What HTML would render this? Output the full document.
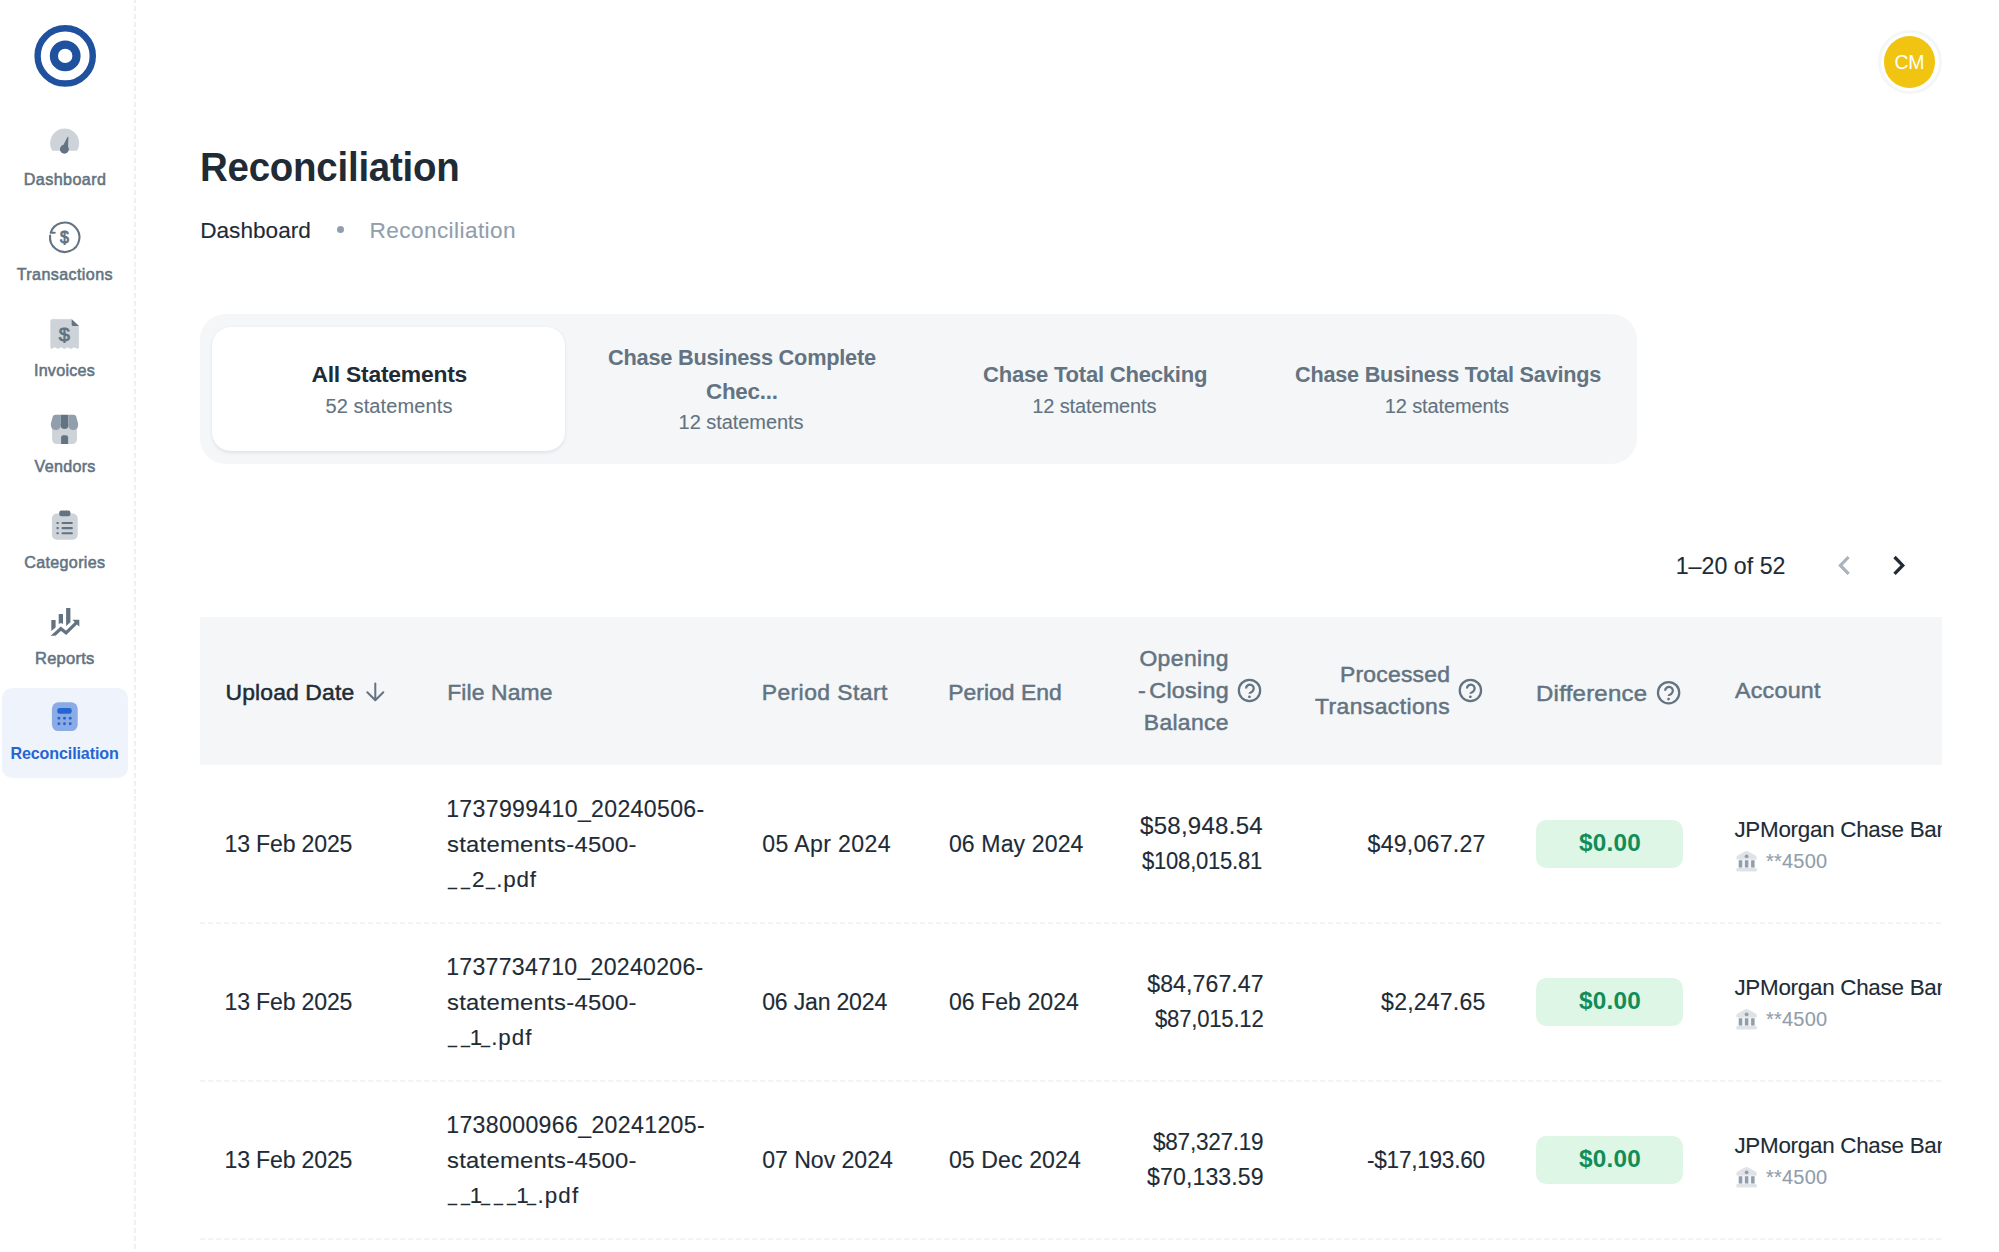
<!DOCTYPE html>
<html lang="en">
<head>
<meta charset="utf-8">
<title>Reconciliation</title>
<style>
*{box-sizing:border-box;margin:0;padding:0}
html,body{width:1999px;height:1252px;overflow:hidden;background:#fff}
body{position:relative;font-family:"Liberation Sans",sans-serif;color:#212b36}
.abs{position:absolute}
.t{position:absolute;white-space:pre;display:block;transform-origin:0 0}
nav,header,main,section,.clip{position:absolute;left:0;top:0}
.clip{width:1941.5px;height:1252px;overflow:hidden}
.sideline{position:absolute;left:134px;top:-1.985px;width:2px;height:1260px;background:repeating-linear-gradient(to bottom,#eff1f4 0,#eff1f4 5px,transparent 5px,transparent 7.985px)}
.active{position:absolute;left:2px;top:688px;width:126px;height:89.5px;border-radius:10px;background:#eef3fc}
.avatar{position:absolute;left:1883.75px;top:36.35px;width:51.5px;height:51.5px;border-radius:50%;background:#f0c411}
.avring{position:absolute;left:1877.5px;top:30.1px;width:64px;height:64px;border-radius:50%;border:3px solid #f5f6f7}
.tabs{position:absolute;left:199.5px;top:314.25px;width:1437px;height:149.75px;border-radius:25.6px;background:#f4f6f8}
.tabsel{position:absolute;left:212px;top:327px;width:353px;height:123.75px;border-radius:19.2px;background:#fff;box-shadow:0 1.6px 3.2px rgba(145,158,171,.2)}
.thead{position:absolute;left:199.5px;top:617px;width:1742px;height:147.5px;background:#f4f6f8}
.rowline{position:absolute;left:199.5px;width:1742px;height:2px;background:repeating-linear-gradient(to right,#f2f4f6 0,#f2f4f6 5px,transparent 5px,transparent 8px)}
.chip{position:absolute;left:1536px;width:147px;height:47.5px;border-radius:10.5px;background:#ddf6e6}
.t i.d{display:inline-block;font-style:normal;letter-spacing:0;overflow:visible;white-space:pre}
.t i.u{display:inline-block;width:13.2px;font-style:normal;letter-spacing:0;transform:translate(2px,-1.6px) scaleX(.72);transform-origin:0 0}
.dot{position:absolute;left:336.6px;top:226px;width:7px;height:7px;border-radius:50%;background:#919eab}
svg{position:absolute;overflow:visible}
</style>
</head>
<body>
<nav>
<div class="sideline"></div>
<div class="active"></div>
<svg id="navicons" style="left:0;top:0" width="135" height="800" viewBox="0 0 135 800">
<circle cx="65.2" cy="55.9" r="27.6" fill="none" stroke="#20519e" stroke-width="6.4"/>
<circle cx="65.2" cy="55.9" r="11.3" fill="none" stroke="#20519e" stroke-width="8.2"/>
<path d="M52.8 150A13.7 13.7 0 1 1 76.5 150Z" fill="#cdd3d9" stroke="#cdd3d9" stroke-width="1.6" stroke-linejoin="round"/>
<path d="M67.85 137.4L63.3 146.4L67.5 147.6Z" fill="#637381" stroke="#637381" stroke-width="1.1" stroke-linejoin="round"/><circle cx="64.4" cy="149.2" r="4.45" fill="#637381"/>
<path d="M50.1 235.6A14.7 14.7 0 1 0 50.7 232.8H54.7" fill="none" stroke="#637381" stroke-width="2.1" stroke-linecap="round" stroke-linejoin="round"/>
<text x="64.5" y="243.2" text-anchor="middle" font-family="Liberation Sans, sans-serif" font-weight="400" font-size="16" fill="#637381" stroke="#637381" stroke-width=".8">$</text>
<path d="M50.8 321.2Q50.8 319.4 52.6 319.4H71.6L78.6 326V347.4L77.7 348.6L74.2 346.9L70.9 348.6L67.7 346.9L64.4 348.6L61.2 346.9L58 348.6L54.7 346.9L51.5 348.6L50.8 347.4Z" fill="#cdd3d9" stroke="#cdd3d9" stroke-width=".8" stroke-linejoin="round"/>
<path d="M71.7 319.2L79 325.9H73.2Q71.7 325.9 71.7 324.4Z" fill="#637381"/>
<text x="64.45" y="341.2" text-anchor="middle" font-family="Liberation Sans, sans-serif" font-weight="400" font-size="19" fill="#637381" stroke="#637381" stroke-width=".75" transform="translate(64.45 0) scale(1.06 1) translate(-64.45 0)">$</text>
<path d="M52.1 424H77V438.8Q77 444 71.8 444H57.3Q52.1 444 52.1 438.8Z" fill="#cdd3d9"/>
<path d="M61.1 444V437.6Q61.1 435.3 63.4 435.3H65.8Q68.1 435.3 68.1 437.6V444Z" fill="#637381"/>
<path d="M55.2 414.8H60.7V425.2A4.9 4.9 0 0 1 50.9 425.2Q50.6 424 51.2 422.2L52.8 416.6Q53.3 414.8 55.2 414.8Z" fill="#919eab"/>
<path d="M60.7 414.8H68.3V425.2A3.8 3.8 0 0 1 60.7 425.2Z" fill="#637381"/>
<path d="M73.8 414.8H68.3V425.2A4.9 4.9 0 0 0 78.1 425.2Q78.4 424 77.8 422.2L76.2 416.6Q75.7 414.8 73.8 414.8Z" fill="#919eab"/>
<rect x="51.9" y="513.6" width="25.8" height="26.1" rx="5" fill="#cdd3d9"/>
<rect x="59.2" y="510.5" width="11.3" height="5.8" rx="2.2" fill="#637381"/>
<rect x="56.4" y="521.95" width="2.4" height="2.1" rx=".8" fill="#637381"/><rect x="61.5" y="521.95" width="11.4" height="2.1" rx="1" fill="#637381"/>
<rect x="56.4" y="527.05" width="2.4" height="2.1" rx=".8" fill="#637381"/><rect x="61.5" y="527.05" width="11.4" height="2.1" rx="1" fill="#637381"/>
<rect x="56.4" y="532.25" width="2.4" height="2.1" rx=".8" fill="#637381"/><rect x="61.5" y="532.25" width="11.4" height="2.1" rx="1" fill="#637381"/>
<path d="M51.3 620H55.6V627.6L51.3 631.1Z" fill="#637381"/>
<path d="M58.7 614.1H63V624.1L60.85 622.9L58.7 624.1Z" fill="#637381"/>
<path d="M66.1 608H70.4V622.2L66.1 626.1Z" fill="#637381"/>
<clipPath id="rc"><rect x="40" y="600" width="50" height="35.7"/></clipPath>
<path d="M51.3 637.4L60.8 628.7L66.1 632.9L76.8 622.3" fill="none" stroke="#637381" stroke-width="3.3" stroke-linejoin="miter" clip-path="url(#rc)"/>
<path d="M72.4 619.8H79.3V626.7Z" fill="#637381"/>
<rect x="51.9" y="702.3" width="25.8" height="28.8" rx="6.5" fill="#8aabe6"/>
<rect x="57.3" y="708.1" width="14.4" height="5.6" rx="2.2" fill="#2565d2"/>
<circle cx="58.9" cy="718.2" r="1.45" fill="#2565d2"/>
<circle cx="64.5" cy="718.2" r="1.45" fill="#2565d2"/>
<circle cx="70.2" cy="718.2" r="1.45" fill="#2565d2"/>
<circle cx="58.9" cy="723.8" r="1.45" fill="#2565d2"/>
<circle cx="64.5" cy="723.8" r="1.45" fill="#2565d2"/>
<circle cx="70.2" cy="723.8" r="1.45" fill="#2565d2"/>
</svg>
<span class="t" style="left:23.70px;top:171.00px;font-size:16.1px;line-height:16.1px;letter-spacing:0.440px;color:#637381;-webkit-text-stroke:0.55px #637381;">Dashboard</span>
<span class="t" style="left:16.70px;top:266.00px;font-size:16.1px;line-height:16.1px;letter-spacing:0.392px;color:#637381;-webkit-text-stroke:0.55px #637381;">Transactions</span>
<span class="t" style="left:33.90px;top:362.00px;font-size:16.1px;line-height:16.1px;letter-spacing:0.273px;color:#637381;-webkit-text-stroke:0.55px #637381;">Invoices</span>
<span class="t" style="left:34.60px;top:458.00px;font-size:16.1px;line-height:16.1px;letter-spacing:0.282px;color:#637381;-webkit-text-stroke:0.55px #637381;">Vendors</span>
<span class="t" style="left:24.30px;top:554.00px;font-size:16.1px;line-height:16.1px;letter-spacing:0.324px;color:#637381;-webkit-text-stroke:0.55px #637381;">Categories</span>
<span class="t" style="left:34.98px;top:650.00px;font-size:16.1px;line-height:16.1px;letter-spacing:0.250px;color:#637381;transform:scaleX(1.0246);-webkit-text-stroke:0.55px #637381;">Reports</span>
<span class="t" style="left:10.40px;top:745.00px;font-size:16.1px;line-height:16.1px;letter-spacing:-0.120px;color:#2565d2;font-weight:700;">Reconciliation</span>
</nav>
<header>
<div class="avring"></div>
<div class="avatar"></div>
<span class="t" style="left:1894.60px;top:53.00px;font-size:19.5px;line-height:19.5px;letter-spacing:-0.382px;color:#ffffff;">CM</span>
</header>
<main>
<h1><span class="t" style="left:199.99px;top:148.00px;font-size:40.2px;line-height:40.2px;letter-spacing:-0.250px;color:#212b36;transform:scaleX(0.9572);font-weight:700;">Reconciliation</span></h1>
<div class="crumbs"><span class="t" style="left:200.20px;top:220.00px;font-size:22.6px;line-height:22.6px;letter-spacing:0.017px;color:#212b36;-webkit-text-stroke:0.12px #212b36;">Dashboard</span>
<span class="t" style="left:369.50px;top:220.00px;font-size:22.6px;line-height:22.6px;letter-spacing:0.416px;color:#919eab;-webkit-text-stroke:0.12px #919eab;">Reconciliation</span><div class="dot"></div></div>
<section>
<div class="tabs"></div>
<div class="tabsel"></div>
<span class="t" style="left:311.40px;top:363.00px;font-size:22.9px;line-height:22.9px;letter-spacing:-0.236px;color:#212b36;font-weight:700;">All Statements</span>
<span class="t" style="left:325.40px;top:396.00px;font-size:20.0px;line-height:20.0px;letter-spacing:0.115px;color:#637381;-webkit-text-stroke:0.12px #637381;">52 statements</span>
<span class="t" style="left:607.80px;top:346.00px;font-size:22.9px;line-height:22.9px;letter-spacing:-0.250px;color:#637381;transform:scaleX(0.9507);font-weight:700;">Chase Business Complete</span>
<span class="t" style="left:706.20px;top:380.00px;font-size:22.9px;line-height:22.9px;letter-spacing:-0.250px;color:#637381;transform:scaleX(0.9779);font-weight:700;">Chec...</span>
<span class="t" style="left:678.60px;top:412.00px;font-size:20.0px;line-height:20.0px;letter-spacing:-0.060px;color:#637381;-webkit-text-stroke:0.12px #637381;">12 statements</span>
<span class="t" style="left:982.90px;top:363.00px;font-size:22.9px;line-height:22.9px;letter-spacing:-0.250px;color:#637381;transform:scaleX(0.9646);font-weight:700;">Chase Total Checking</span>
<span class="t" style="left:1032.30px;top:396.00px;font-size:20.0px;line-height:20.0px;letter-spacing:-0.127px;color:#637381;-webkit-text-stroke:0.12px #637381;">12 statements</span>
<span class="t" style="left:1294.60px;top:363.00px;font-size:22.9px;line-height:22.9px;letter-spacing:-0.250px;color:#637381;transform:scaleX(0.9466);font-weight:700;">Chase Business Total Savings</span>
<span class="t" style="left:1384.80px;top:396.00px;font-size:20.0px;line-height:20.0px;letter-spacing:-0.127px;color:#637381;-webkit-text-stroke:0.12px #637381;">12 statements</span>
</section>
<section>
<span class="t" style="left:1675.70px;top:555.00px;font-size:23.2px;line-height:23.2px;letter-spacing:0.022px;color:#212b36;-webkit-text-stroke:0.12px #212b36;">1–20 of 52</span>
<svg style="left:0;top:0" width="1999" height="700" viewBox="0 0 1999 700">
<polyline points="1848.6,557 1840.4,565.4 1848.6,573.8" fill="none" stroke="#a9b3bd" stroke-width="3.2" stroke-linecap="butt" stroke-linejoin="miter"/>
<polyline points="1894.5,557 1902.7,565.4 1894.5,573.8" fill="none" stroke="#212b36" stroke-width="3.3" stroke-linecap="butt" stroke-linejoin="miter"/>
</svg>
</section>
<section>
<div class="thead"></div>
<span class="t" style="left:225.50px;top:681.00px;font-size:22.9px;line-height:22.9px;letter-spacing:0.138px;color:#212b36;-webkit-text-stroke:0.5px #212b36;">Upload Date</span>
<span class="t" style="left:447.20px;top:681.00px;font-size:22.9px;line-height:22.9px;letter-spacing:0.116px;color:#637381;-webkit-text-stroke:0.5px #637381;">File Name</span>
<span class="t" style="left:761.70px;top:681.00px;font-size:22.9px;line-height:22.9px;letter-spacing:0.436px;color:#637381;-webkit-text-stroke:0.5px #637381;">Period Start</span>
<span class="t" style="left:948.30px;top:681.00px;font-size:22.9px;line-height:22.9px;letter-spacing:0.008px;color:#637381;-webkit-text-stroke:0.5px #637381;">Period End</span>
<span class="t" style="left:1139.40px;top:647.00px;font-size:22.9px;line-height:22.9px;letter-spacing:0.414px;color:#637381;-webkit-text-stroke:0.5px #637381;">Opening</span>
<span class="t" style="left:1137.78px;top:679.00px;font-size:22.9px;line-height:22.9px;letter-spacing:0.250px;color:#637381;word-spacing:-3.4px;transform:scaleX(1.0189);-webkit-text-stroke:0.5px #637381;">- Closing</span>
<span class="t" style="left:1143.80px;top:711.00px;font-size:22.9px;line-height:22.9px;letter-spacing:0.318px;color:#637381;-webkit-text-stroke:0.5px #637381;">Balance</span>
<span class="t" style="left:1340.00px;top:663.00px;font-size:22.9px;line-height:22.9px;letter-spacing:0.223px;color:#637381;-webkit-text-stroke:0.5px #637381;">Processed</span>
<span class="t" style="left:1315.00px;top:695.00px;font-size:22.9px;line-height:22.9px;letter-spacing:0.405px;color:#637381;-webkit-text-stroke:0.5px #637381;">Transactions</span>
<span class="t" style="left:1536.15px;top:682.00px;font-size:22.9px;line-height:22.9px;letter-spacing:0.250px;color:#637381;transform:scaleX(1.0466);-webkit-text-stroke:0.5px #637381;">Difference</span>
<span class="t" style="left:1734.50px;top:679.00px;font-size:22.9px;line-height:22.9px;letter-spacing:0.250px;color:#637381;transform:scaleX(1.0147);-webkit-text-stroke:0.5px #637381;">Account</span>
<svg style="left:0;top:0" width="1999" height="800" viewBox="0 0 1999 800">
<g fill="none" stroke="#637381" stroke-width="2" stroke-linecap="round" stroke-linejoin="round">
<path d="M375.3 683.5V700M367.3 692.3l8 8 8-8"/>
</g>
<g fill="none" stroke="#637381" stroke-width="2.25" stroke-linejoin="round"><circle cx="1249.5" cy="690.4" r="10.65"/><path d="M1246.05 688.50A3.85 3.85 0 1 1 1252.40 691.40Q1249.45 692.90 1249.45 693.70"/></g><circle cx="1249.45" cy="696.80" r="1.4" fill="#637381"/>
<g fill="none" stroke="#637381" stroke-width="2.25" stroke-linejoin="round"><circle cx="1470.4" cy="690.4" r="10.65"/><path d="M1466.95 688.50A3.85 3.85 0 1 1 1473.30 691.40Q1470.35 692.90 1470.35 693.70"/></g><circle cx="1470.35" cy="696.80" r="1.4" fill="#637381"/>
<g fill="none" stroke="#637381" stroke-width="2.25" stroke-linejoin="round"><circle cx="1668.6" cy="692.7" r="10.65"/><path d="M1665.15 690.80A3.85 3.85 0 1 1 1671.50 693.70Q1668.55 695.20 1668.55 696.00"/></g><circle cx="1668.55" cy="699.10" r="1.4" fill="#637381"/>
</svg>
<div class="rowline" style="top:921.8px"></div>
<div class="rowline" style="top:1079.8px"></div>
<div class="rowline" style="top:1237.8px"></div>
<div class="chip" style="top:820px"></div>
<div class="chip" style="top:978px"></div>
<div class="chip" style="top:1136px"></div>
<span class="t" style="left:224.50px;top:833.00px;font-size:23.1px;line-height:23.1px;letter-spacing:-0.174px;color:#212b36;-webkit-text-stroke:0.12px #212b36;">13 Feb 2025</span>
<span class="t" style="left:446.20px;top:798.00px;font-size:23.1px;line-height:23.1px;letter-spacing:0.330px;color:#212b36;-webkit-text-stroke:0.12px #212b36;">1737999410_20240506-</span>
<span class="t" style="left:447.20px;top:834.00px;font-size:22.4px;line-height:22.4px;letter-spacing:0.250px;color:#212b36;transform:scaleX(1.0640);-webkit-text-stroke:0.12px #212b36;">statements-4500-</span>
<span class="t" style="left:445.90px;top:869.00px;font-size:22.4px;line-height:22.4px;letter-spacing:0;color:#212b36;-webkit-text-stroke:0.12px #212b36;"><i class="u">_</i><i class="u">_</i><i class="d" style="width:12px;text-indent:-0.4px">2</i><i class="u">_</i><span style="margin-left:-1.10px;letter-spacing:0.791px">.pdf</span></span>
<span class="t" style="left:762.20px;top:833.00px;font-size:23.1px;line-height:23.1px;letter-spacing:0.381px;color:#212b36;-webkit-text-stroke:0.12px #212b36;">05 Apr 2024</span>
<span class="t" style="left:948.90px;top:833.00px;font-size:23.1px;line-height:23.1px;letter-spacing:0.102px;color:#212b36;-webkit-text-stroke:0.12px #212b36;">06 May 2024</span>
<span class="t" style="left:1140.00px;top:815.00px;font-size:23.1px;line-height:23.1px;letter-spacing:0.250px;color:#212b36;transform:scaleX(1.0408);-webkit-text-stroke:0.12px #212b36;">$58,948.54</span>
<span class="t" style="left:1141.90px;top:850.00px;font-size:23.1px;line-height:23.1px;letter-spacing:-0.250px;color:#212b36;transform:scaleX(0.9554);-webkit-text-stroke:0.12px #212b36;">$108,015.81</span>
<span class="t" style="left:1367.60px;top:833.00px;font-size:23.1px;line-height:23.1px;letter-spacing:0.240px;color:#212b36;-webkit-text-stroke:0.12px #212b36;">$49,067.27</span>
<span class="t" style="left:1579.00px;top:832.00px;font-size:23.1px;line-height:23.1px;letter-spacing:0.250px;color:#118d57;transform:scaleX(1.0527);font-weight:700;">$0.00</span>
<span class="t" style="left:1766.10px;top:851.00px;font-size:20.0px;line-height:20.0px;letter-spacing:0.193px;color:#919eab;-webkit-text-stroke:0.12px #919eab;">**4500</span>
<span class="t" style="left:224.50px;top:991.00px;font-size:23.1px;line-height:23.1px;letter-spacing:-0.174px;color:#212b36;-webkit-text-stroke:0.12px #212b36;">13 Feb 2025</span>
<span class="t" style="left:446.20px;top:956.00px;font-size:23.1px;line-height:23.1px;letter-spacing:0.283px;color:#212b36;-webkit-text-stroke:0.12px #212b36;">1737734710_20240206-</span>
<span class="t" style="left:447.20px;top:992.00px;font-size:22.4px;line-height:22.4px;letter-spacing:0.250px;color:#212b36;transform:scaleX(1.0640);-webkit-text-stroke:0.12px #212b36;">statements-4500-</span>
<span class="t" style="left:445.90px;top:1027.00px;font-size:22.4px;line-height:22.4px;letter-spacing:0;color:#212b36;-webkit-text-stroke:0.12px #212b36;"><i class="u">_</i><i class="u">_</i><i class="d" style="width:6.8px;text-indent:-2.5px">1</i><i class="u">_</i><span style="margin-left:-1.10px;letter-spacing:0.991px">.pdf</span></span>
<span class="t" style="left:762.20px;top:991.00px;font-size:23.1px;line-height:23.1px;letter-spacing:-0.208px;color:#212b36;-webkit-text-stroke:0.12px #212b36;">06 Jan 2024</span>
<span class="t" style="left:948.90px;top:991.00px;font-size:23.1px;line-height:23.1px;letter-spacing:0.026px;color:#212b36;-webkit-text-stroke:0.12px #212b36;">06 Feb 2024</span>
<span class="t" style="left:1147.20px;top:973.00px;font-size:23.1px;line-height:23.1px;letter-spacing:0.096px;color:#212b36;-webkit-text-stroke:0.12px #212b36;">$84,767.47</span>
<span class="t" style="left:1154.90px;top:1008.00px;font-size:23.1px;line-height:23.1px;letter-spacing:-0.250px;color:#212b36;transform:scaleX(0.9592);-webkit-text-stroke:0.12px #212b36;">$87,015.12</span>
<span class="t" style="left:1381.10px;top:991.00px;font-size:23.1px;line-height:23.1px;letter-spacing:0.188px;color:#212b36;-webkit-text-stroke:0.12px #212b36;">$2,247.65</span>
<span class="t" style="left:1579.00px;top:990.00px;font-size:23.1px;line-height:23.1px;letter-spacing:0.250px;color:#118d57;transform:scaleX(1.0527);font-weight:700;">$0.00</span>
<span class="t" style="left:1766.10px;top:1009.00px;font-size:20.0px;line-height:20.0px;letter-spacing:0.193px;color:#919eab;-webkit-text-stroke:0.12px #919eab;">**4500</span>
<span class="t" style="left:224.50px;top:1149.00px;font-size:23.1px;line-height:23.1px;letter-spacing:-0.174px;color:#212b36;-webkit-text-stroke:0.12px #212b36;">13 Feb 2025</span>
<span class="t" style="left:446.20px;top:1114.00px;font-size:23.1px;line-height:23.1px;letter-spacing:0.356px;color:#212b36;-webkit-text-stroke:0.12px #212b36;">1738000966_20241205-</span>
<span class="t" style="left:447.20px;top:1150.00px;font-size:22.4px;line-height:22.4px;letter-spacing:0.250px;color:#212b36;transform:scaleX(1.0640);-webkit-text-stroke:0.12px #212b36;">statements-4500-</span>
<span class="t" style="left:445.90px;top:1185.00px;font-size:22.4px;line-height:22.4px;letter-spacing:0;color:#212b36;-webkit-text-stroke:0.12px #212b36;"><i class="u">_</i><i class="u">_</i><i class="d" style="width:6.8px;text-indent:-2.5px">1</i><i class="u">_</i><i class="u">_</i><i class="u">_</i><i class="d" style="width:6.8px;text-indent:-2.5px">1</i><i class="u">_</i><span style="margin-left:-1.10px;letter-spacing:1.091px">.pdf</span></span>
<span class="t" style="left:762.20px;top:1149.00px;font-size:23.1px;line-height:23.1px;letter-spacing:-0.032px;color:#212b36;-webkit-text-stroke:0.12px #212b36;">07 Nov 2024</span>
<span class="t" style="left:948.90px;top:1149.00px;font-size:23.1px;line-height:23.1px;letter-spacing:0.098px;color:#212b36;-webkit-text-stroke:0.12px #212b36;">05 Dec 2024</span>
<span class="t" style="left:1153.00px;top:1131.00px;font-size:23.1px;line-height:23.1px;letter-spacing:-0.250px;color:#212b36;transform:scaleX(0.9761);-webkit-text-stroke:0.12px #212b36;">$87,327.19</span>
<span class="t" style="left:1147.00px;top:1166.00px;font-size:23.1px;line-height:23.1px;letter-spacing:0.118px;color:#212b36;-webkit-text-stroke:0.12px #212b36;">$70,133.59</span>
<span class="t" style="left:1367.32px;top:1149.00px;font-size:23.1px;line-height:23.1px;letter-spacing:-0.250px;color:#212b36;transform:scaleX(0.9771);-webkit-text-stroke:0.12px #212b36;">-$17,193.60</span>
<span class="t" style="left:1579.00px;top:1148.00px;font-size:23.1px;line-height:23.1px;letter-spacing:0.250px;color:#118d57;transform:scaleX(1.0527);font-weight:700;">$0.00</span>
<span class="t" style="left:1766.10px;top:1167.00px;font-size:20.0px;line-height:20.0px;letter-spacing:0.193px;color:#919eab;-webkit-text-stroke:0.12px #919eab;">**4500</span>
<div class="clip">
<span class="t" style="left:1734.40px;top:819.00px;font-size:22.4px;line-height:22.4px;letter-spacing:-0.265px;color:#212b36;-webkit-text-stroke:0.12px #212b36;">JPMorgan Chase Bank</span>
<span class="t" style="left:1734.40px;top:977.00px;font-size:22.4px;line-height:22.4px;letter-spacing:-0.265px;color:#212b36;-webkit-text-stroke:0.12px #212b36;">JPMorgan Chase Bank</span>
<span class="t" style="left:1734.40px;top:1135.00px;font-size:22.4px;line-height:22.4px;letter-spacing:-0.265px;color:#212b36;-webkit-text-stroke:0.12px #212b36;">JPMorgan Chase Bank</span>
</div>
<svg style="left:0;top:0" width="1999" height="1252" viewBox="0 0 1999 1252">
<path d="M1746.6 851.1Q1747.4 851.1 1748.4 851.6L1755.6 855.4Q1756.8 856.1 1756.8 857.4V858.4Q1756.8 859.8 1755.4 859.8H1737.8Q1736.4 859.8 1736.4 858.4V857.4Q1736.4 856.1 1737.6 855.4L1744.8 851.6Q1745.8 851.1 1746.6 851.1Z" fill="#dfe3e8"/><rect x="1738" y="859.6" width="17.3" height="8.6" fill="#f1f3f5"/><circle cx="1746.6" cy="856.3" r="1.9" fill="#919eab"/><rect x="1738.8" y="860.2" width="3.45" height="7.3" rx=".5" fill="#919eab"/><rect x="1744.9" y="860.2" width="3.45" height="7.3" rx=".5" fill="#919eab"/><rect x="1751.1" y="860.2" width="3.45" height="7.3" rx=".5" fill="#919eab"/><rect x="1736.4" y="868.0" width="20.4" height="3.6" rx="1.2" fill="#dfe3e8"/>
<path d="M1746.6 1009.1Q1747.4 1009.1 1748.4 1009.6L1755.6 1013.4Q1756.8 1014.1 1756.8 1015.4V1016.4Q1756.8 1017.8 1755.4 1017.8H1737.8Q1736.4 1017.8 1736.4 1016.4V1015.4Q1736.4 1014.1 1737.6 1013.4L1744.8 1009.6Q1745.8 1009.1 1746.6 1009.1Z" fill="#dfe3e8"/><rect x="1738" y="1017.6" width="17.3" height="8.6" fill="#f1f3f5"/><circle cx="1746.6" cy="1014.3" r="1.9" fill="#919eab"/><rect x="1738.8" y="1018.2" width="3.45" height="7.3" rx=".5" fill="#919eab"/><rect x="1744.9" y="1018.2" width="3.45" height="7.3" rx=".5" fill="#919eab"/><rect x="1751.1" y="1018.2" width="3.45" height="7.3" rx=".5" fill="#919eab"/><rect x="1736.4" y="1026.0" width="20.4" height="3.6" rx="1.2" fill="#dfe3e8"/>
<path d="M1746.6 1167.1Q1747.4 1167.1 1748.4 1167.6L1755.6 1171.4Q1756.8 1172.1 1756.8 1173.4V1174.4Q1756.8 1175.8 1755.4 1175.8H1737.8Q1736.4 1175.8 1736.4 1174.4V1173.4Q1736.4 1172.1 1737.6 1171.4L1744.8 1167.6Q1745.8 1167.1 1746.6 1167.1Z" fill="#dfe3e8"/><rect x="1738" y="1175.6" width="17.3" height="8.6" fill="#f1f3f5"/><circle cx="1746.6" cy="1172.3" r="1.9" fill="#919eab"/><rect x="1738.8" y="1176.2" width="3.45" height="7.3" rx=".5" fill="#919eab"/><rect x="1744.9" y="1176.2" width="3.45" height="7.3" rx=".5" fill="#919eab"/><rect x="1751.1" y="1176.2" width="3.45" height="7.3" rx=".5" fill="#919eab"/><rect x="1736.4" y="1184.0" width="20.4" height="3.6" rx="1.2" fill="#dfe3e8"/>
</svg>
</section>
</main>
</body>
</html>
